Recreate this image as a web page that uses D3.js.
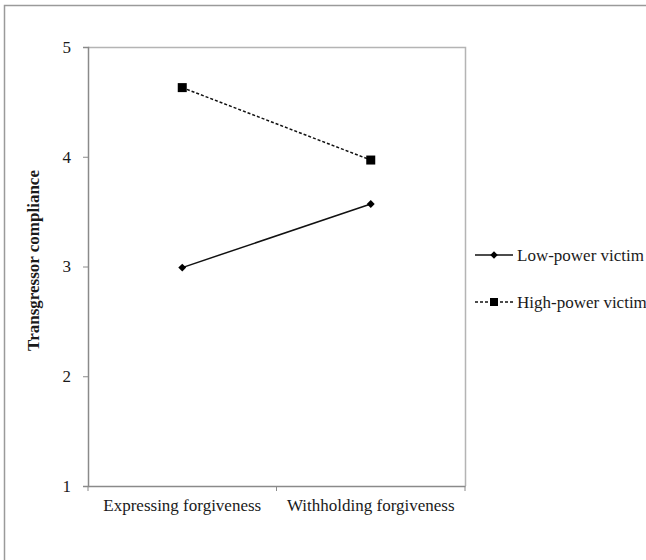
<!DOCTYPE html>
<html>
<head>
<meta charset="utf-8">
<script src="https://cdn.jsdelivr.net/npm/d3@7"></script>
<style>
  body { margin: 0; background: #fff; }
  svg text { font-family: "Liberation Serif", "Times New Roman", serif; fill: #1a1a1a; }
</style>
</head>
<body>
<div id="chart"></div>
<script>
var categories = ["Expressing forgiveness", "Withholding forgiveness"];
var lowPower = [2.99, 3.57];
var highPower = [4.63, 3.97];
var yTicks = [1, 2, 3, 4, 5];
var seriesNames = ["Low-power victim", "High-power victim"];

var W = 646, H = 560;
var margin = {left: 88, top: 47, right: 181, bottom: 74};
var iw = W - margin.left - margin.right, ih = H - margin.top - margin.bottom;

var svg = d3.select("#chart").append("svg")
    .attr("width", W).attr("height", H);

// outer frame (only top & left visible in the picture)
svg.append("rect")
  .attr("x", 4.5).attr("y", 5.5)
  .attr("width", W + 10).attr("height", H + 10)
  .style("fill", "none").style("stroke", "#9a9a9a").style("stroke-width", 1.5);

var g = svg.append("g").attr("transform", "translate(" + margin.left + "," + margin.top + ")");

var x = d3.scaleBand().domain(categories).range([0, iw]);
var y = d3.scaleLinear().domain([1, 5]).range([ih, 0]);

// plot frame top/right
g.append("path")
  .attr("d", "M0,0.5H" + (iw + 0.5) + "V" + ih)
  .style("fill", "none").style("stroke", "#b4b4b4").style("stroke-width", 1.5);

// y axis
var yAxis = g.append("g").call(d3.axisLeft(y).tickValues(yTicks).tickSize(5).tickPadding(12).tickFormat(d3.format("d")));
yAxis.select(".domain").style("stroke", "#8a8a8a").style("stroke-width", 1.5);
yAxis.selectAll(".tick line").style("stroke", "#8a8a8a");
yAxis.selectAll("text").style("font-size", "17px").style("font-family", "Liberation Serif").style("fill", "#1a1a1a");

// x axis with ticks at band edges
var xAxis = g.append("g").attr("transform", "translate(0," + ih + ")")
  .call(d3.axisBottom(x).tickSize(0).tickPadding(13));
xAxis.select(".domain").style("stroke", "#8a8a8a").style("stroke-width", 1.5);
xAxis.selectAll("text").style("font-size", "17px").style("font-family", "Liberation Serif").style("fill", "#1a1a1a");
var edges = [0].concat(categories.map(function(c){ return x(c) + x.bandwidth(); }));
g.selectAll(".xedge").data(edges).enter().append("line")
  .attr("x1", function(d){ return d; }).attr("x2", function(d){ return d; })
  .attr("y1", ih).attr("y2", ih + 5)
  .style("stroke", "#8a8a8a");

// y label
svg.append("text")
  .attr("transform", "translate(39," + (margin.top + ih / 2 - 6) + ") rotate(-90)")
  .attr("text-anchor", "middle")
  .style("font-size", "17px").style("font-weight", "bold")
  .text("Transgressor compliance");

var cx = function(d, i){ return x(categories[i]) + x.bandwidth() / 2; };
var line = d3.line().x(cx).y(function(d){ return y(d); });

// low power: solid with diamonds
g.append("path").datum(lowPower).attr("d", line)
  .style("fill", "none").style("stroke", "#111").style("stroke-width", 1.5);
g.selectAll(".diam").data(lowPower).enter().append("path")
  .attr("d", d3.symbol().type(d3.symbolDiamond2).size(40))
  .attr("transform", function(d, i){ return "translate(" + cx(d, i) + "," + y(d) + ")"; })
  .style("fill", "#000");

// high power: dashed with squares
g.append("path").datum(highPower).attr("d", line)
  .style("fill", "none").style("stroke", "#111").style("stroke-width", 1.5)
  .style("stroke-dasharray", "3,2");
g.selectAll(".sq").data(highPower).enter().append("rect")
  .attr("x", function(d, i){ return cx(d, i) - 4.5; })
  .attr("y", function(d){ return y(d) - 4.5; })
  .attr("width", 9).attr("height", 9)
  .style("fill", "#000");

// legend
var lg = svg.append("g").attr("transform", "translate(475,255)");
var rows = lg.selectAll("g").data(seriesNames).enter().append("g")
  .attr("transform", function(d, i){ return "translate(0," + i * 47 + ")"; });
rows.append("line").attr("x1", 0).attr("x2", 38).attr("y1", 0).attr("y2", 0)
  .style("stroke", "#111").style("stroke-width", 1.5)
  .style("stroke-dasharray", function(d, i){ return i ? "3,2" : null; });
rows.filter(function(d, i){ return i === 0; }).append("path")
  .attr("d", d3.symbol().type(d3.symbolDiamond2).size(36))
  .attr("transform", "translate(19,0)").style("fill", "#000");
rows.filter(function(d, i){ return i === 1; }).append("rect")
  .attr("x", 15).attr("y", -4).attr("width", 8).attr("height", 8).style("fill", "#000");
rows.append("text").attr("x", 42).attr("y", 6)
  .style("font-size", "17px")
  .text(function(d){ return d; });
</script>
</body>
</html>
